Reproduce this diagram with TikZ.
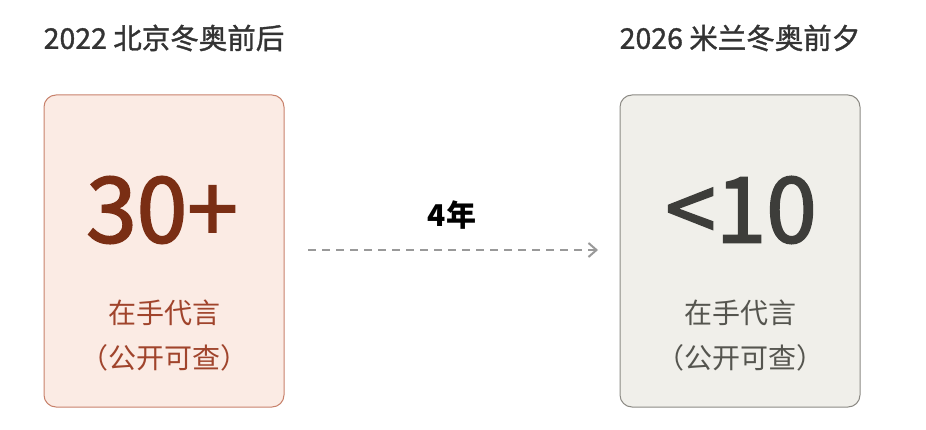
\documentclass[tikz,border=0pt]{standalone}
\usepackage{fontspec}
\setmainfont{Noto Sans CJK SC}
\usetikzlibrary{arrows.meta}
\definecolor{lfill}{HTML}{FBEBE4}
\definecolor{ldraw}{HTML}{C8826C}
\definecolor{lnum}{HTML}{7A2E14}
\definecolor{ltxt}{HTML}{A0442C}
\definecolor{rfill}{HTML}{F0EFEA}
\definecolor{rdraw}{HTML}{8C8A84}
\definecolor{rnum}{HTML}{3D3D3A}
\definecolor{rtxt}{HTML}{55554F}
\definecolor{ttl}{HTML}{333333}
\begin{document}
\begin{tikzpicture}[x=1pt,y=-1pt,
  card/.style={rounded corners=12pt,line width=1pt},
  ttlstyle/.style={font=\fontsize{28.5}{32}\selectfont\addfontfeatures{FakeBold=1.2},text=ttl},
  num/.style={font=\fontsize{91}{100}\selectfont\addfontfeatures{FakeBold=2}},
  sub/.style={font=\fontsize{28}{45}\selectfont,align=center}]
\useasboundingbox (0,0) rectangle (926,430);
\node[ttlstyle] (t1) at (164,38) {2022 北京冬奥前后};
\node[ttlstyle] (t2) at (740,38) {2026 米兰冬奥前夕};
\draw[card,fill=lfill,draw=ldraw] (44,95) rectangle (284,407);
\draw[card,fill=rfill,draw=rdraw] (620,95) rectangle (860,407);
\node[num,text=lnum] (n1) at (162,210) {30+};
\node[num,text=rnum] (n2) at (741,210) {<10};
\node[sub,text=ltxt] (s1) at (164,336) {在手代言\\（公开可查）};
\node[sub,text=rtxt] (s2) at (740,336) {在手代言\\（公开可查）};
\coordinate (a1) at (308,250);
\coordinate (a2) at (598,250);
\draw[draw=gray!80,line width=2pt,dash pattern=on 8pt off 6pt,-{Straight Barb[length=8pt,width=14pt]}] (a1) -- (a2);
\node[font=\fontsize{30}{34}\selectfont\bfseries,text=black] (y) at (452,215) {4年};
\end{tikzpicture}
\end{document}
